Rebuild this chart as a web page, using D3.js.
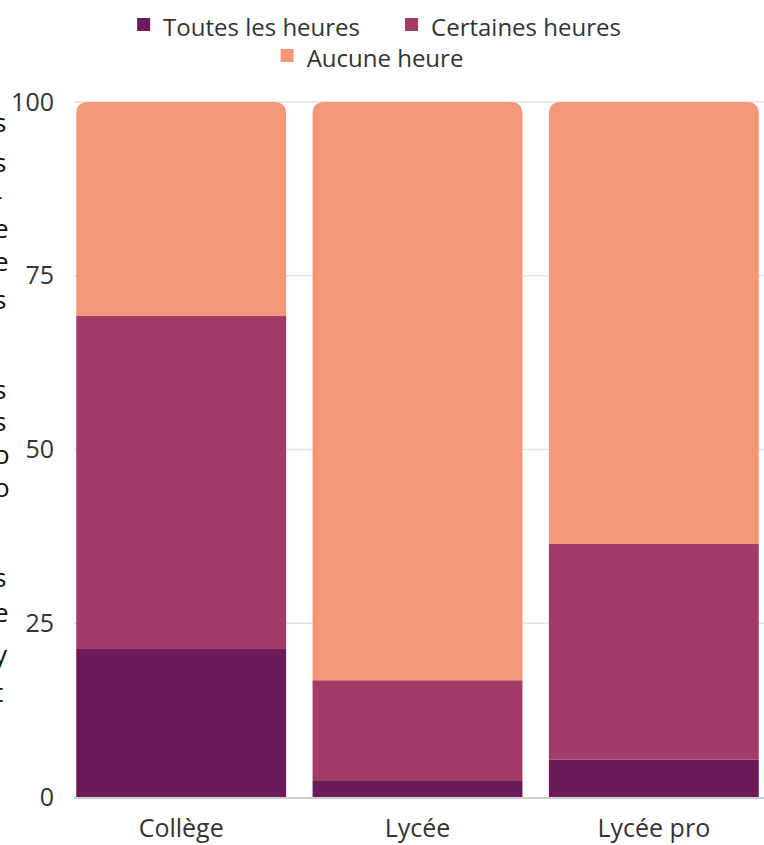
<!DOCTYPE html>
<html>
<head>
<meta charset="utf-8">
<script src="https://cdn.jsdelivr.net/npm/d3@7"></script>
<style>
  html, body { margin: 0; padding: 0; background: #fff; }
  svg { display: block; font-family: "Open Sans", sans-serif; }
</style>
</head>
<body>
<svg id="chart" width="764" height="845"></svg>
<script>
// Établissements
const categories = ["Collège", "Lycée", "Lycée pro"];
// Part des élèves (%) par modalité
const seriesNames = ["Toutes les heures", "Certaines heures", "Aucune heure"];
const toutesHeures = [21.3, 2.3, 5.4];
const certainesHeures = [47.9, 14.5, 31.0];
const aucuneHeure = [30.8, 83.2, 63.6];
const yTicks = [0, 25, 50, 75, 100];
const colors = ["#6d1a5a", "#a23b66", "#f39779"];
// Fragments of the side caption, clipped by the left border
const sideFragments = ["s", "s", "-", "e", "e", "s", "s", "s", "o", "o", "s", "e", "y", "t"];
const sideFragmentY = [132, 172, 205, 238, 271, 309, 399, 431, 464, 497, 587, 622, 664, 702];

const svg = d3.select("#chart");
const W = 764, H = 845;

const x = d3.scaleBand().domain(categories).range([63, 772]).paddingInner(0.112).paddingOuter(0.056);
const y = d3.scaleLinear().domain([0, 100]).range([797, 102]);

const rows = categories.map((c, i) => ({
  cat: c,
  [seriesNames[0]]: toutesHeures[i],
  [seriesNames[1]]: certainesHeures[i],
  [seriesNames[2]]: aucuneHeure[i]
}));
const stacked = d3.stack().keys(seriesNames)(rows);

// Grid lines
const grid = svg.append("g");
grid.selectAll("line").data(yTicks.filter(t => t > 0)).join("line")
  .attr("x1", 74).attr("x2", W)
  .attr("y1", d => y(d)).attr("y2", d => y(d))
  .attr("stroke", "#e3e3e3").attr("stroke-width", 1.5);

// Y axis labels
const yAxis = svg.append("g").attr("transform", "translate(54,0)")
  .call(d3.axisLeft(y).tickValues(yTicks).tickSize(0).tickPadding(0));
yAxis.select(".domain").remove();
yAxis.selectAll("text")
  .attr("font-size", 25).attr("fill", "#333").attr("font-family", "Open Sans");

// Bars
function topRounded(x0, y0, w, h, r) {
  r = Math.min(r, h, w / 2);
  return `M${x0},${y0 + h}V${y0 + r}Q${x0},${y0} ${x0 + r},${y0}H${x0 + w - r}Q${x0 + w},${y0} ${x0 + w},${y0 + r}V${y0 + h}Z`;
}
stacked.forEach((layer, li) => {
  const g = svg.append("g").attr("fill", colors[li]);
  layer.forEach((d, i) => {
    const x0 = x(categories[i]), w = x.bandwidth();
    const yt = y(d[1]), yb = y(d[0]);
    if (li === stacked.length - 1) {
      g.append("path").attr("d", topRounded(x0, yt, w, yb - yt, 12));
    } else {
      g.append("rect").attr("x", x0).attr("y", yt).attr("width", w).attr("height", yb - yt);
    }
  });
});

// Baseline
svg.append("line").attr("x1", 74).attr("x2", W)
  .attr("y1", y(0) + 1).attr("y2", y(0) + 1)
  .attr("stroke", "#cfcfcf").attr("stroke-width", 2);

// X axis labels
const xAxis = svg.append("g").attr("transform", `translate(0,${y(0)})`)
  .call(d3.axisBottom(x).tickSize(0).tickPadding(22));
xAxis.select(".domain").remove();
xAxis.selectAll("text")
  .attr("font-size", 25).attr("fill", "#333").attr("font-family", "Open Sans");

// Legend
const legendRows = [
  { items: [0, 1], cx: 379, y: 36 },
  { items: [2], cx: 372, y: 67 }
];
legendRows.forEach(row => {
  const g = svg.append("g");
  let cursor = 0;
  row.items.forEach((si, k) => {
    if (k > 0) cursor += 45;
    g.append("rect").attr("x", cursor).attr("y", row.y - 18).attr("width", 13).attr("height", 13)
      .attr("fill", colors[si]);
    cursor += 26;
    const t = g.append("text").attr("x", cursor).attr("y", row.y)
      .attr("font-size", 24).attr("fill", "#333").text(seriesNames[si]);
    cursor += t.node().getComputedTextLength();
  });
  g.attr("transform", `translate(${row.cx - cursor / 2},0)`);
});

// Clipped side caption
svg.append("g").selectAll("text").data(sideFragments).join("text")
  .attr("x", -6).attr("y", (d, i) => sideFragmentY[i])
  .attr("font-size", 26).attr("fill", "#111").text(d => d);
</script>
</body>
</html>
